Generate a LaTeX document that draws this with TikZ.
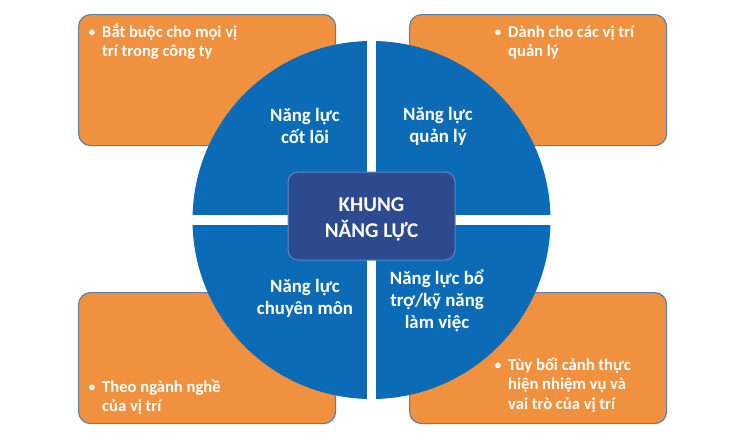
\documentclass[tikz,border=0pt]{standalone}
\usepackage{fontspec}
\setmainfont{Carlito}
\definecolor{orng}{HTML}{F0913F}
\definecolor{oedge}{HTML}{5E7FA6}
\definecolor{cblue}{HTML}{0B6BB6}
\definecolor{navy}{HTML}{2E4A8F}
\definecolor{navyedge}{HTML}{5A86C4}
\begin{document}
\begin{tikzpicture}[x=1pt,y=-1pt,
  obox/.style={draw=oedge, line width=1.2pt, fill=orng, rounded corners=12pt, minimum width=257pt, minimum height=131pt, inner sep=0pt, anchor=north west},
  btext/.style={text=white, font=\bfseries\fontsize{16.6}{19.5}\selectfont, align=left, inner sep=0pt, anchor=north west},
  bdot/.style={text=white, font=\bfseries\fontsize{13}{19.5}\selectfont, inner sep=0pt, anchor=base},
  qlabel/.style={text=white, font=\bfseries\fontsize{18.8}{22}\selectfont, align=center, inner sep=0pt},
  ctitle/.style={text=white, font=\bfseries\fontsize{21}{26}\selectfont, align=center, inner sep=0pt}
]
\useasboundingbox (0,0) rectangle (740,442);
% orange boxes
\node[obox] (tl) at (78,14) {};
\node[obox] (tr) at (409,14) {};
\node[obox] (bl) at (78,292) {};
\node[obox] (br) at (409,292) {};
% circle
\node[circle, fill=cblue, minimum size=358pt, inner sep=0pt] (c) at (371.5,220) {};
\draw[white, line width=9.5pt] (c.north) -- (c.south);
\draw[white, line width=9.5pt] (c.west) -- (c.east);
% center box
\node[draw=navyedge, line width=1pt, fill=navy, rounded corners=10pt, minimum width=167pt, minimum height=88pt, inner sep=0pt] (center) at (371.5,216) {};
\node[ctitle] (ctext) at (371.5,219) {KHUNG\\NĂNG LỰC};
% quadrant labels
\node[qlabel] (q1) at (305,126) {Năng lực\\cốt lõi};
\node[qlabel] (q2) at (438,126) {Năng lực\\quản lý};
\node[qlabel] (q3) at (305,298) {Năng lực\\chuyên môn};
\node[qlabel] (q4) at (437,301) {Năng lực bổ\\trợ/kỹ năng\\làm việc};
% bullets
\node[bdot] (d1) at (92,36) {•};
\node[btext] (t1) at (102,23.5) {\strut Bắt buộc cho mọi vị\\trí trong công ty};
\node[bdot] (d2) at (498,36) {•};
\node[btext] (t2) at (508,23.5) {\strut Dành cho các vị trí\\quản lý};
\node[bdot] (d3) at (92,391) {•};
\node[btext] (t3) at (102,378.5) {\strut Theo ngành nghề\\của vị trí};
\node[bdot] (d4) at (498,369) {•};
\node[btext] (t4) at (508,356.5) {\strut Tùy bối cảnh thực\\hiện nhiệm vụ và\\vai trò của vị trí};
\end{tikzpicture}
\end{document}
